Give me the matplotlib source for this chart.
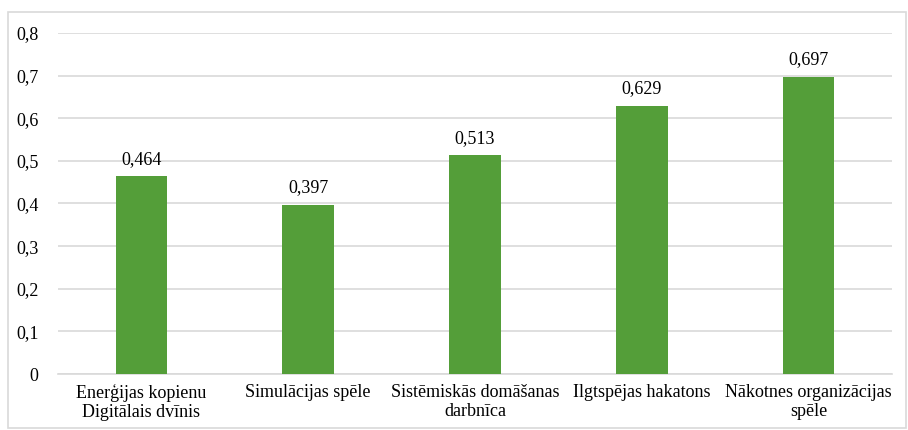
import matplotlib.pyplot as plt
from matplotlib.patches import Rectangle

# activity scores
categories = ["Enerģijas kopienu\nDigitālais dvīnis", "Simulācijas spēle",
              "Sistēmiskās domāšanas\ndarbnīca", "Ilgtspējas hakatons",
              "Nākotnes organizācijas\nspēle"]
values = [0.464, 0.397, 0.513, 0.629, 0.697]
yticks = [0, 0.1, 0.2, 0.3, 0.4, 0.5, 0.6, 0.7, 0.8]

plt.rcParams['font.family'] = 'serif'
plt.rcParams['font.serif'] = ['Liberation Serif', 'DejaVu Serif']

fig = plt.figure(figsize=(9.08, 4.30), dpi=100)
ax = fig.add_axes([0.0639, 0.1302, 0.9185, 0.7931])

# outer chart border
fig.patches.append(Rectangle((8 / 908, 2 / 430), 898 / 908, 416 / 430,
                             transform=fig.transFigure, fill=False,
                             edgecolor='#d9d9d9', linewidth=1.2))

x = range(len(categories))
bars = ax.bar(x, values, width=0.31, color='#549e39', zorder=3)
for b, v in zip(bars, values):
    ax.text(b.get_x() + b.get_width() / 2, v + 0.02, f"{v:.3f}".replace('.', ','),
            ha='center', va='bottom', fontsize=13)

ax.set_xlim(-0.5, len(categories) - 0.5)
ax.set_ylim(0, 0.8)
ax.set_yticks(yticks)
ax.set_yticklabels([("0" if t == 0 else f"{t:.1f}".replace('.', ',')) for t in yticks], fontsize=13)
ax.set_xticks(list(x))
ax.set_xticklabels(categories, fontsize=13, linespacing=1.15)
ax.tick_params(length=0)
ax.tick_params(axis='y', pad=14)
ax.tick_params(axis='x', pad=7)
ax.grid(axis='y', color='#d9d9d9', linewidth=1.2, zorder=0)
for s in ['top', 'right', 'left']:
    ax.spines[s].set_visible(False)
ax.spines['bottom'].set_color('#d9d9d9')
ax.spines['bottom'].set_linewidth(1.2)

fig.savefig('out.png', dpi=100)
